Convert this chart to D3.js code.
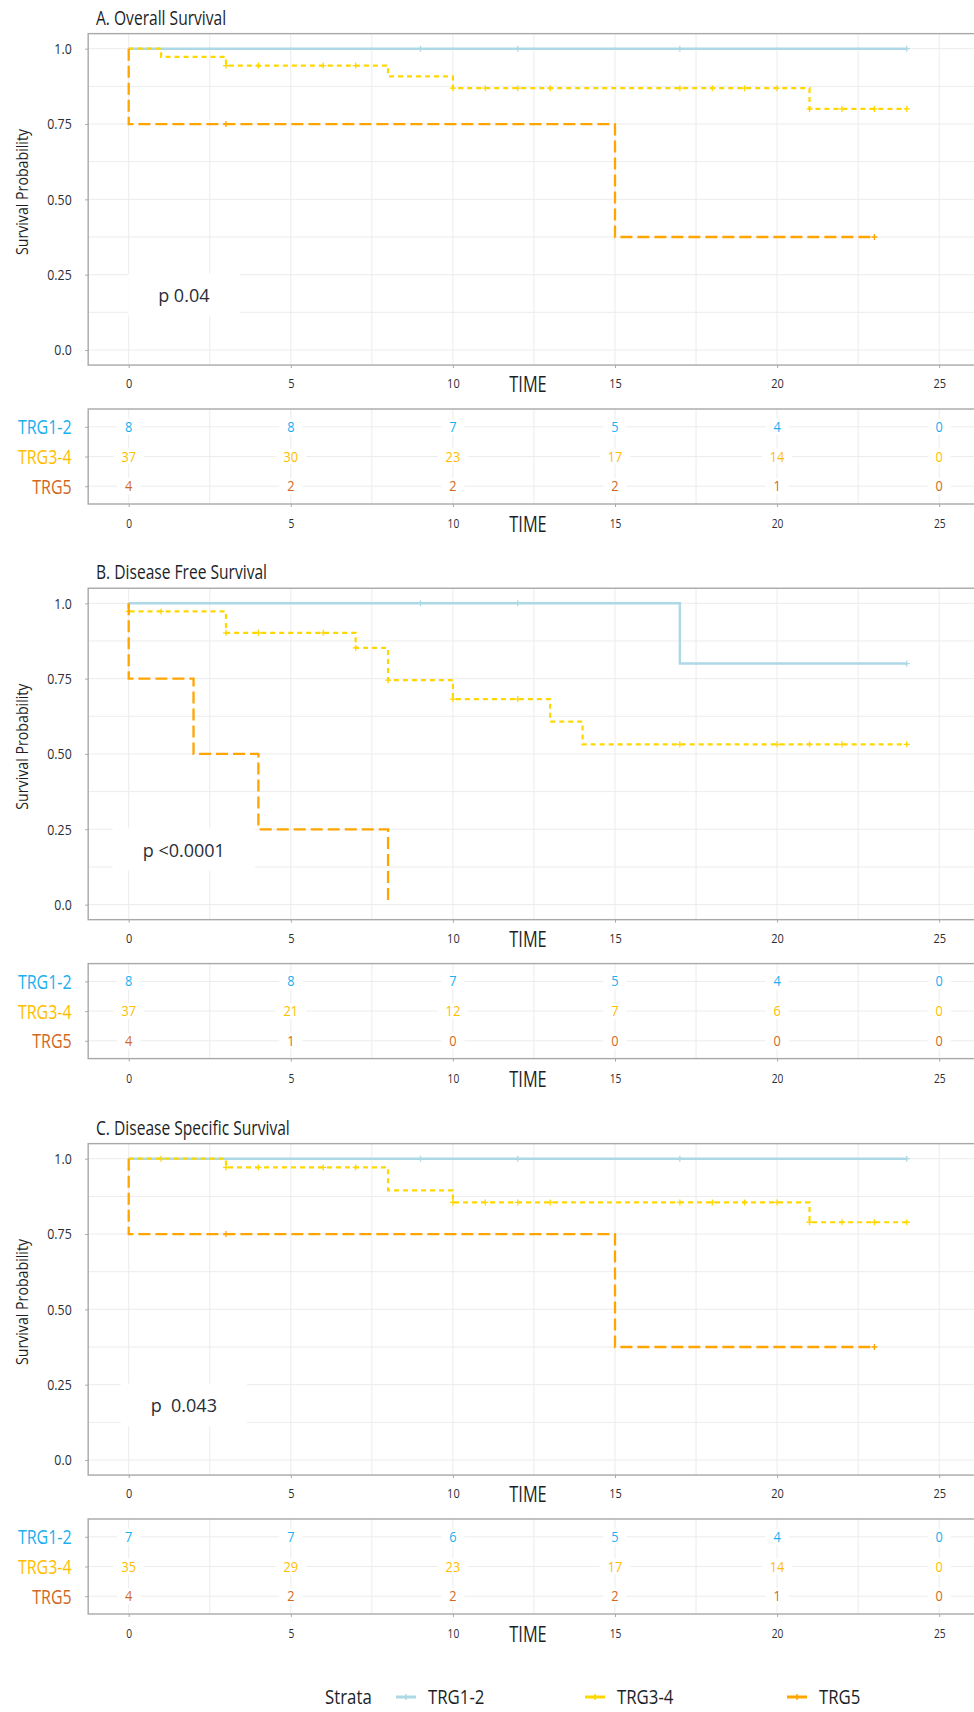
<!DOCTYPE html>
<html><head><meta charset="utf-8">
<script src="https://cdn.jsdelivr.net/npm/d3@7"></script>
<style>
body{margin:0;background:#fff}
svg{display:block}
text{white-space:pre;font-family:'Open Sans','Noto Sans','DejaVu Sans',sans-serif}
</style></head><body>
<svg id="c" width="974" height="1712"></svg>
<script>
// ---------------- data ----------------
const strata = ["TRG1-2", "TRG3-4", "TRG5"];
const panelTitles = ["A. Overall Survival", "B. Disease Free Survival", "C. Disease Specific Survival"];
const pValues = ["p 0.04", "p <0.0001", "p  0.043"];
const xTicks = [0, 5, 10, 15, 20, 25];
const yTicks = [0, 0.25, 0.5, 0.75, 1];
const yTickLabels = ["0.0", "0.25", "0.50", "0.75", "1.0"];
const riskTimes = [0, 5, 10, 15, 20, 25];

// A. Overall Survival
const osTime12 = [0, 24], osSurv12 = [1, 1], osCens12 = [9, 12, 17, 24];
const osTime34 = [0, 1, 3, 8, 10, 21, 24], osSurv34 = [1, 0.973, 0.944, 0.908, 0.869, 0.800, 0.800];
const osCens34 = [3, 4, 6, 7, 10, 11, 12, 13, 17, 18, 19, 20, 21, 22, 23, 24];
const osTime5 = [0, 0, 15, 23], osSurv5 = [1, 0.75, 0.375, 0.375], osCens5 = [3, 23];
const osRisk12 = [8, 8, 7, 5, 4, 0], osRisk34 = [37, 30, 23, 17, 14, 0], osRisk5 = [4, 2, 2, 2, 1, 0];

// B. Disease Free Survival
const dfsTime12 = [0, 17, 24], dfsSurv12 = [1, 0.8, 0.8], dfsCens12 = [9, 12, 24];
const dfsTime34 = [0, 0, 3, 7, 8, 10, 13, 14, 24], dfsSurv34 = [1, 0.973, 0.902, 0.852, 0.745, 0.682, 0.607, 0.532, 0.532];
const dfsCens34 = [0, 1, 3, 4, 6, 7, 8, 10, 12, 17, 20, 21, 22, 24];
const dfsTime5 = [0, 0, 2, 4, 8], dfsSurv5 = [1, 0.75, 0.5, 0.25, 0], dfsCens5 = [];
const dfsRisk12 = [8, 8, 7, 5, 4, 0], dfsRisk34 = [37, 21, 12, 7, 6, 0], dfsRisk5 = [4, 1, 0, 0, 0, 0];

// C. Disease Specific Survival
const dssTime12 = [0, 24], dssSurv12 = [1, 1], dssCens12 = [9, 12, 17, 24];
const dssTime34 = [0, 3, 8, 10, 21, 24], dssSurv34 = [1, 0.971, 0.895, 0.855, 0.789, 0.789];
const dssCens34 = [1, 3, 4, 6, 7, 10, 11, 12, 13, 17, 18, 19, 20, 21, 22, 23, 24];
const dssTime5 = [0, 0, 15, 23], dssSurv5 = [1, 0.75, 0.375, 0.375], dssCens5 = [3, 23];
const dssRisk12 = [7, 7, 6, 5, 4, 0], dssRisk34 = [35, 29, 23, 17, 14, 0], dssRisk5 = [4, 2, 2, 2, 1, 0];

const panels = [
  { title: panelTitles[0], p: pValues[0],
    curves: [[osTime12, osSurv12, osCens12], [osTime34, osSurv34, osCens34], [osTime5, osSurv5, osCens5]],
    risk: [osRisk12, osRisk34, osRisk5] },
  { title: panelTitles[1], p: pValues[1],
    curves: [[dfsTime12, dfsSurv12, dfsCens12], [dfsTime34, dfsSurv34, dfsCens34], [dfsTime5, dfsSurv5, dfsCens5]],
    risk: [dfsRisk12, dfsRisk34, dfsRisk5] },
  { title: panelTitles[2], p: pValues[2],
    curves: [[dssTime12, dssSurv12, dssCens12], [dssTime34, dssSurv34, dssCens34], [dssTime5, dssSurv5, dssCens5]],
    risk: [dssRisk12, dssRisk34, dssRisk5] }
];

// ---------------- style ----------------
const lineColors = ["#ADD8E6", "#FFD700", "#FFA500"];
const textColors = ["#1AAFEF", "#FFBD00", "#D2691E"];
const dashes = [null, "5,4", "12,5"];
const lineWidths = [2.4, 2.2, 2.3];
const COND = 0.8;
const INK = "#1c1f28";
const GRID = "#ececec";
const BORDER = "#a8a8a8";

const svg = d3.select("#c");
const x = d3.scaleLinear().domain([0, 25]).range([128.7, 939.2]);
const panelOffsets = [0, 554.6, 1110];

function txt(g, px, py, s, o) {
  return g.append("text")
    .attr("transform", `translate(${px},${py})${o.rot ? " rotate(" + o.rot + ")" : ""} scale(${o.sx ?? COND},1)`)
    .attr("text-anchor", o.anchor || "start")
    .attr("dy", o.dy ?? "0.35em")
    .style("font-size", o.size + "px")
    .style("fill", o.fill || INK)
    .text(s);
}

function survAt(times, surv, t) {
  let v = surv[0];
  for (let i = 0; i < times.length; i++) if (times[i] <= t) v = surv[i];
  return v;
}

const plus = "M-3,0H3M0,-3V3";

panels.forEach((pn, pi) => {
  const oy = panelOffsets[pi];
  const g = svg.append("g");
  const y = d3.scaleLinear().domain([0, 1]).range([350 + oy, 48.7 + oy]);
  const left = x(-1.25), right = x(26.25);
  const top = y(1.05), bottom = y(-0.05);

  // title
  txt(g, 96, 18 + oy, pn.title, { size: 19.5, sx: 0.8 });

  // grid
  const gx = d3.range(0, 25.01, 2.5), gy = d3.range(0, 1.001, 0.125);
  g.selectAll(null).data(gx).join("line")
    .attr("x1", d => x(d)).attr("x2", d => x(d)).attr("y1", top).attr("y2", bottom)
    .attr("stroke", GRID).attr("stroke-width", 1);
  g.selectAll(null).data(gy).join("line")
    .attr("x1", left).attr("x2", right).attr("y1", d => y(d)).attr("y2", d => y(d))
    .attr("stroke", GRID).attr("stroke-width", 1);

  // p-value label with white background
  const pt = txt(g, x(1.7), y(0.18), pn.p, { size: 18, sx: 1, anchor: "middle", fill: "#2a2d36" });
  const pw = pt.node().getComputedTextLength();
  g.insert("rect", () => pt.node())
    .attr("x", x(1.7) - pw / 2 - 30).attr("y", y(0.18) - 22)
    .attr("width", pw + 60).attr("height", 42).attr("fill", "#fff");

  // curves
  pn.curves.forEach((c, si) => {
    const [times, surv, cens] = c;
    const pts = times.map((t, i) => [t, surv[i]]);
    g.append("path")
      .attr("d", d3.line().x(d => x(d[0])).y(d => y(d[1])).curve(d3.curveStepAfter)(pts))
      .attr("fill", "none").attr("stroke", lineColors[si]).attr("stroke-width", lineWidths[si])
      .attr("stroke-dasharray", dashes[si]);
    g.selectAll(null).data(cens).join("path")
      .attr("transform", t => `translate(${x(t)},${y(survAt(times, surv, t))})`)
      .attr("d", plus).attr("stroke", lineColors[si]).attr("stroke-width", 1.3).attr("fill", "none");
  });

  // frame
  g.append("rect").attr("x", left).attr("y", top).attr("width", right - left).attr("height", bottom - top)
    .attr("fill", "none").attr("stroke", BORDER).attr("stroke-width", 1.4);

  // y axis
  const ya = g.append("g").attr("transform", `translate(${left},0)`)
    .call(d3.axisLeft(y).tickValues(yTicks).tickFormat((d, i) => yTickLabels[i]).tickSize(3).tickPadding(0));
  ya.select(".domain").remove();
  ya.selectAll(".tick line").attr("stroke", BORDER);
  ya.selectAll(".tick text").attr("x", null).attr("dy", "0.35em")
    .attr("transform", "translate(-16.5,0) scale(0.88,1)")
    .style("font-size", "14px").style("fill", "#2a2d35").style("font-family", null);

  // x axis
  const xa = g.append("g").attr("transform", `translate(0,${bottom})`)
    .call(d3.axisBottom(x).tickValues(xTicks).tickSize(3).tickPadding(0));
  xa.select(".domain").remove();
  xa.selectAll(".tick line").attr("stroke", BORDER);
  xa.selectAll(".tick text").attr("y", null).attr("dy", "0.35em")
    .attr("transform", `translate(0,${384 + oy - bottom}) scale(0.88,1)`)
    .style("font-size", "12.5px").style("fill", "#2a2d35").style("font-family", null);
  txt(g, 528, 385 + oy, "TIME", { size: 21, anchor: "middle", sx: 0.78 });

  // y title
  txt(g, 22, 192 + oy, "Survival Probability", { size: 16.5, anchor: "middle", rot: -90, sx: 0.86 });

  // ---------- risk table ----------
  const rTop = 409 + oy, rBot = 504 + oy;
  const ry = d3.scalePoint().domain(strata).range([rTop, rBot]).padding(0.6);
  g.selectAll(null).data(gx).join("line")
    .attr("x1", d => x(d)).attr("x2", d => x(d)).attr("y1", rTop).attr("y2", rBot)
    .attr("stroke", GRID);
  g.selectAll(null).data(strata).join("line")
    .attr("x1", left).attr("x2", right).attr("y1", d => ry(d)).attr("y2", d => ry(d))
    .attr("stroke", GRID);
  g.append("rect").attr("x", left).attr("y", rTop).attr("width", right - left).attr("height", rBot - rTop)
    .attr("fill", "none").attr("stroke", BORDER).attr("stroke-width", 1.4);

  strata.forEach((s, si) => {
    pn.risk[si].forEach((n, ti) => {
      const t = txt(g, x(riskTimes[ti]), ry(s), String(n), { size: 14.5, anchor: "middle", sx: 0.88, fill: textColors[si] });
      const w = t.node().getComputedTextLength() * 0.88;
      g.insert("rect", () => t.node()).attr("x", x(riskTimes[ti]) - w / 2 - 8).attr("y", ry(s) - 8)
        .attr("width", w + 16).attr("height", 16).attr("fill", "#fff");
    });
  });

  const ra = g.append("g").attr("transform", `translate(${left},0)`)
    .call(d3.axisLeft(ry).tickSize(3).tickPadding(0));
  ra.select(".domain").remove();
  ra.selectAll(".tick line").attr("stroke", BORDER);
  ra.selectAll(".tick text").attr("x", null).attr("dy", "0.35em")
    .attr("transform", "translate(-16.5,0) scale(0.8,1)")
    .style("font-size", "20px").style("font-family", null)
    .style("fill", d => textColors[strata.indexOf(d)]);

  const rxa = g.append("g").attr("transform", `translate(0,${rBot})`)
    .call(d3.axisBottom(x).tickValues(xTicks).tickSize(3).tickPadding(0));
  rxa.select(".domain").remove();
  rxa.selectAll(".tick line").attr("stroke", BORDER);
  rxa.selectAll(".tick text").attr("y", null).attr("dy", "0.35em")
    .attr("transform", `translate(0,${524 + oy - rBot}) scale(0.85,1)`)
    .style("font-size", "12px").style("fill", "#2a2d35").style("font-family", null);
  txt(g, 528, 525 + oy, "TIME", { size: 21, anchor: "middle", sx: 0.78 });
});

// ---------------- legend ----------------
const lg = svg.append("g");
const legY = 1697;
txt(lg, 325, legY, "Strata", { size: 20.5, sx: 0.82 });
const keyX = [406, 595, 797];
strata.forEach((s, i) => {
  lg.append("line").attr("x1", keyX[i] - 10).attr("x2", keyX[i] + 10).attr("y1", legY).attr("y2", legY)
    .attr("stroke", lineColors[i]).attr("stroke-width", 3);
  lg.append("path").attr("transform", `translate(${keyX[i]},${legY})`).attr("d", plus)
    .attr("stroke", lineColors[i]).attr("stroke-width", 1.5);
  txt(lg, keyX[i] + 22, legY, s, { size: 20.5, sx: 0.82 });
});
</script>
</body></html>
